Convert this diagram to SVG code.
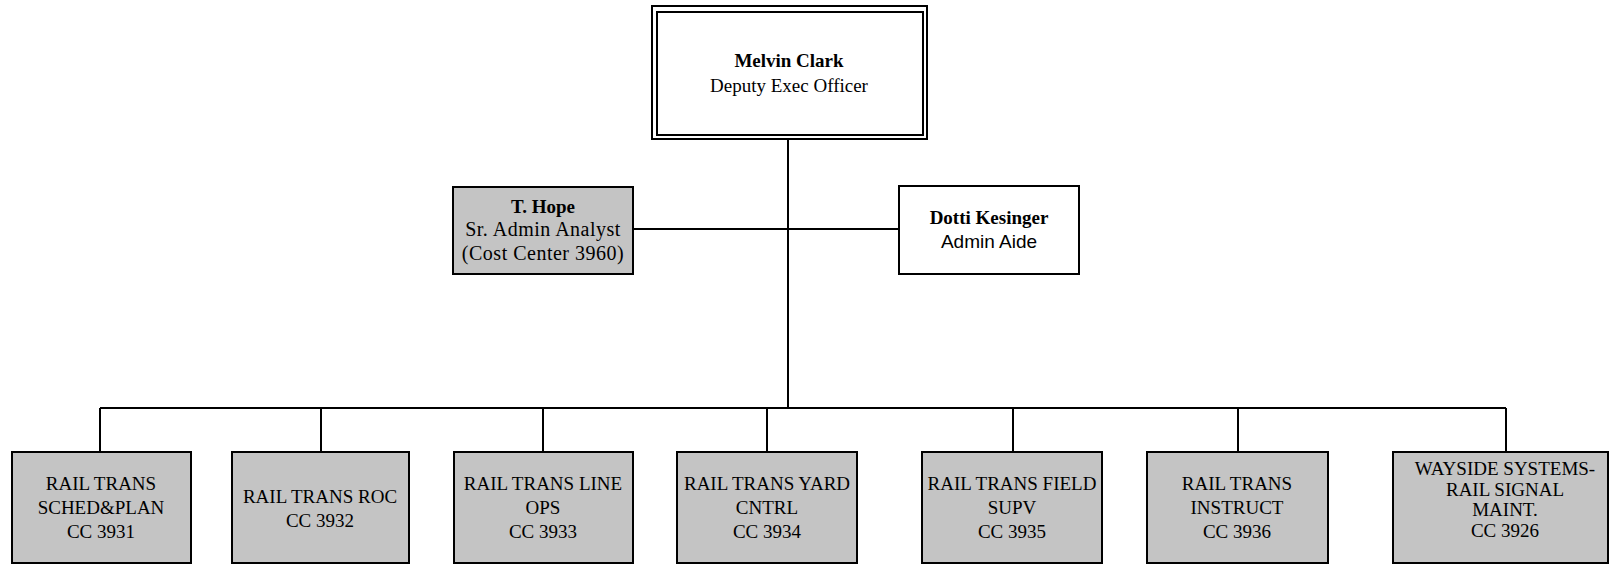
<svg xmlns="http://www.w3.org/2000/svg" width="1610" height="564" viewBox="0 0 1610 564">
<style>
.bg{fill:#ffffff}
.box{fill:#ffffff;stroke:#000;stroke-width:2}
.gbox{fill:#c4c4c4;stroke:#000;stroke-width:2}
.ln{stroke:#000;stroke-width:2;fill:none}
text{font-family:"Liberation Serif","Times New Roman",serif;fill:#000;text-anchor:middle}
.b{font-weight:bold}
.t19{font-size:19px}
.t20{font-size:20px;letter-spacing:0.5px}
.sans{font-family:"Liberation Sans",Arial,sans-serif}
</style>
<rect class="bg" x="0" y="0" width="1610" height="564"/>
<g id="connectors">
<line class="ln" x1="788" y1="139" x2="788" y2="408"/>
<line class="ln" x1="633" y1="229" x2="899" y2="229"/>
<line class="ln" x1="100" y1="408" x2="1506" y2="408"/>
<line class="ln" x1="100" y1="408" x2="100" y2="452"/>
<line class="ln" x1="321" y1="408" x2="321" y2="452"/>
<line class="ln" x1="543" y1="408" x2="543" y2="452"/>
<line class="ln" x1="767" y1="408" x2="767" y2="452"/>
<line class="ln" x1="1013" y1="408" x2="1013" y2="452"/>
<line class="ln" x1="1238" y1="408" x2="1238" y2="452"/>
<line class="ln" x1="1506" y1="408" x2="1506" y2="452"/>
</g>
<g id="melvin-clark">
<rect class="box" x="652" y="6" width="275" height="133" stroke-width="2.5"/>
<rect class="box" x="657" y="12" width="266" height="123" stroke-width="1.5"/>
<text class="b t19" x="789" y="67">Melvin Clark</text>
<text class="t19" x="789" y="92">Deputy Exec Officer</text>
</g>
<g id="t-hope">
<rect class="gbox" x="453" y="187" width="180" height="87"/>
<text class="b t19" x="543" y="213">T. Hope</text>
<text class="t20" x="543" y="236">Sr. Admin Analyst</text>
<text class="t20" x="543" y="260">(Cost Center 3960)</text>
</g>
<g id="dotti-kesinger">
<rect class="box" x="899" y="186" width="180" height="88"/>
<text class="b t19" x="989" y="224">Dotti Kesinger</text>
<text class="t19 sans" x="989" y="248">Admin Aide</text>
</g>
<g id="cc3931">
<rect class="gbox" x="12" y="452" width="179" height="111"/>
<text class="t19" x="101" y="490">RAIL TRANS</text>
<text class="t19" x="101" y="514">SCHED&amp;PLAN</text>
<text class="t19" x="101" y="538">CC 3931</text>
</g>
<g id="cc3932">
<rect class="gbox" x="232" y="452" width="177" height="111"/>
<text class="t19" x="320" y="503">RAIL TRANS ROC</text>
<text class="t19" x="320" y="527">CC 3932</text>
</g>
<g id="cc3933">
<rect class="gbox" x="454" y="452" width="179" height="111"/>
<text class="t19" x="543" y="490">RAIL TRANS LINE</text>
<text class="t19" x="543" y="514">OPS</text>
<text class="t19" x="543" y="538">CC 3933</text>
</g>
<g id="cc3934">
<rect class="gbox" x="677" y="452" width="180" height="111"/>
<text class="t19" x="767" y="490">RAIL TRANS YARD</text>
<text class="t19" x="767" y="514">CNTRL</text>
<text class="t19" x="767" y="538">CC 3934</text>
</g>
<g id="cc3935">
<rect class="gbox" x="922" y="452" width="180" height="111"/>
<text class="t19" x="1012" y="490">RAIL TRANS FIELD</text>
<text class="t19" x="1012" y="514">SUPV</text>
<text class="t19" x="1012" y="538">CC 3935</text>
</g>
<g id="cc3936">
<rect class="gbox" x="1147" y="452" width="181" height="111"/>
<text class="t19" x="1237" y="490">RAIL TRANS</text>
<text class="t19" x="1237" y="514">INSTRUCT</text>
<text class="t19" x="1237" y="538">CC 3936</text>
</g>
<g id="cc3926">
<rect class="gbox" x="1393" y="452" width="215" height="111"/>
<text class="t19" x="1505" y="475">WAYSIDE SYSTEMS-</text>
<text class="t19" x="1505" y="496">RAIL SIGNAL</text>
<text class="t19" x="1505" y="516">MAINT.</text>
<text class="t19" x="1505" y="537">CC 3926</text>
</g>
</svg>
